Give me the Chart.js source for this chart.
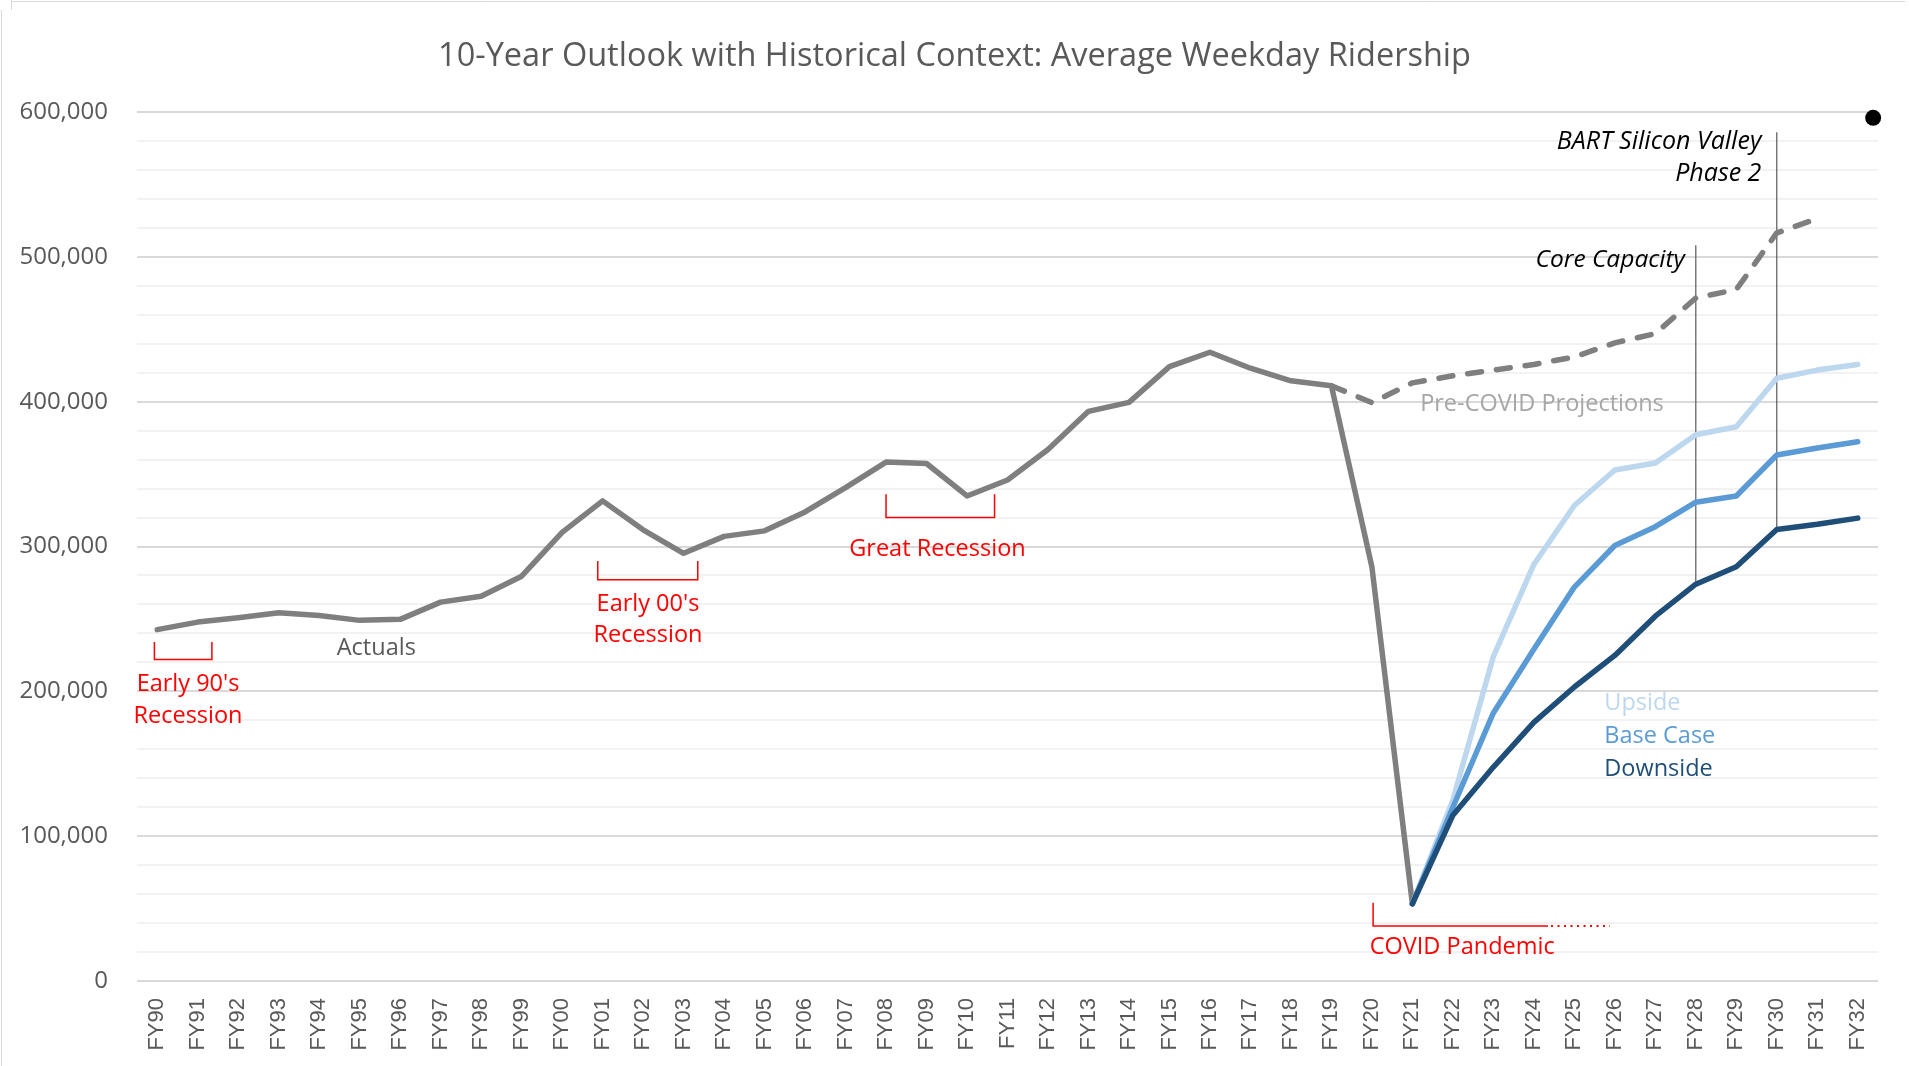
<!DOCTYPE html>
<html>
<head>
<meta charset="utf-8">
<script src="https://cdn.jsdelivr.net/npm/chart.js@4.4.1/dist/chart.umd.min.js"></script>
<style>
  html, body { margin: 0; padding: 0; background: #fff; }
  #wrap { width: 1909px; height: 1066px; position: relative; }
</style>
</head>
<body>
<div id="wrap"><canvas id="ridership"></canvas></div>
<script>
// fiscal years on the category axis
const years = ['FY90','FY91','FY92','FY93','FY94','FY95','FY96','FY97','FY98','FY99',
  'FY00','FY01','FY02','FY03','FY04','FY05','FY06','FY07','FY08','FY09',
  'FY10','FY11','FY12','FY13','FY14','FY15','FY16','FY17','FY18','FY19',
  'FY20','FY21','FY22','FY23','FY24','FY25','FY26','FY27','FY28','FY29',
  'FY30','FY31','FY32'];

// average weekday ridership
const actuals = [242600, 247800, 250800, 254300, 252400, 249000, 249700, 261600, 265700, 279500,
  309700, 331500, 311500, 295300, 307000, 310800, 323900, 340600, 358300, 357300,
  334900, 345900, 367000, 393300, 399500, 424200, 434100, 423100, 414400, 411000,
  286000, 53300, null, null, null, null, null, null, null, null, null, null, null];

const preCovid = [null, null, null, null, null, null, null, null, null, null,
  null, null, null, null, null, null, null, null, null, null,
  null, null, null, null, null, null, null, null, null, 411000,
  399300, 413000, 417900, 421800, 425700, 430900, 440600, 447000, 471600, 477400,
  516500, 526500, null];

const none31 = Array(31).fill(null);
const upside   = [...none31, 53300, 125000, 224000, 287600, 328300, 352800, 357600, 377200, 382700, 416200, 421800, 425700];
const baseCase = [...none31, 53300, 120000, 185100, 229000, 272000, 300700, 313700, 330600, 334900, 363200, 368000, 372300];
const downside = [...none31, 53300, 114500, 147700, 178600, 203000, 224800, 251900, 274000, 286000, 311700, 315300, 319600];

// project marker lines: [top, bottom]
const coreCapacity = [508000, 274000];
const bartPhase2 = [586000, 311700];
const topDot = { x: 42.38, y: 596000 };

const yTicks = [0, 100000, 200000, 300000, 400000, 500000, 600000];

// annotation placement (category index, value)
const brackets = [
  { from: -0.07, to: 1.35, top: 234000, bottom: 222000 },
  { from: 10.88, to: 13.35, top: 290000, bottom: 277000 },
  { from: 18.0, to: 20.68, top: 336000, bottom: 320000 },
  { from: 30.03, to: 34.35, dots: 35.88, top: 54000, bottom: 38000, open: true }
];
const notes = [
  { text: "Early 90's", i: 0.76, v: 204800, color: '#FF0000' },
  { text: 'Recession', i: 0.76, v: 182800, color: '#FF0000' },
  { text: 'Actuals', i: 5.41, v: 229900, color: '#595959' },
  { text: "Early 00's", i: 12.12, v: 260400, color: '#FF0000' },
  { text: 'Recession', i: 12.12, v: 238600, color: '#FF0000' },
  { text: 'Great Recession', i: 19.27, v: 298200, color: '#FF0000' },
  { text: 'COVID Pandemic', i: 32.23, v: 23000, color: '#FF0000' },
  { text: 'Pre-COVID Projections', i: 34.2, v: 398300, color: '#A6A6A6' },
  { text: 'Upside', i: 35.74, v: 191700, color: '#BDD7EE', align: 'left' },
  { text: 'Base Case', i: 35.74, v: 169000, color: '#5B9BD5', align: 'left' },
  { text: 'Downside', i: 35.74, v: 146200, color: '#1F4E79', align: 'left' },
  { text: 'Core Capacity', i: 37.73, v: 497700, color: '#000', align: 'right', italic: true, size: 24.5 },
  { text: 'BART Silicon Valley', i: 39.62, v: 579300, color: '#000', align: 'right', italic: true, size: 25 },
  { text: 'Phase 2', i: 39.62, v: 557400, color: '#000', align: 'right', italic: true, size: 25 }
];

const FONT = '"Open Sans", "Noto Sans", sans-serif';

const overlay = {
  id: 'overlay',
  beforeDraw(chart) {
    const c = chart.ctx;
    c.save();
    c.strokeStyle = '#D9D9D9';
    c.lineWidth = 1;
    c.beginPath();
    c.moveTo(1.5, 10); c.lineTo(1.5, chart.height);
    c.moveTo(11.5, 0); c.lineTo(11.5, 10);
    c.moveTo(11, 1.5); c.lineTo(1905, 1.5);
    c.stroke();
    // title
    c.fillStyle = '#595959';
    c.font = '32.5px ' + FONT;
    c.textAlign = 'center';
    c.textBaseline = 'middle';
    c.fillText('10-Year Outlook with Historical Context: Average Weekday Ridership', chart.width / 2, 57);
    c.restore();
  },
  afterDatasetsDraw(chart) {
    const c = chart.ctx;
    const xs = chart.scales.x, ys = chart.scales.y;
    c.save();
    c.strokeStyle = '#FF0000';
    c.lineWidth = 1.5;
    brackets.forEach(b => {
      const x1 = xs.getPixelForValue(b.from), x2 = xs.getPixelForValue(b.to);
      const yt = ys.getPixelForValue(b.top), yb = ys.getPixelForValue(b.bottom);
      c.setLineDash([]);
      c.beginPath();
      c.moveTo(x1, yt); c.lineTo(x1, yb); c.lineTo(x2, yb);
      if (!b.open) c.lineTo(x2, yt);
      c.stroke();
      if (b.dots) {
        c.setLineDash([2, 4.5]);
        c.lineWidth = 2;
        c.beginPath();
        c.moveTo(x2 + 3, yb); c.lineTo(xs.getPixelForValue(b.dots), yb);
        c.stroke();
        c.lineWidth = 1.5;
      }
    });
    c.setLineDash([]);
    c.textBaseline = 'middle';
    notes.forEach(n => {
      c.font = (n.italic ? 'italic ' : '') + (n.size || 23.5) + 'px ' + FONT;
      c.fillStyle = n.color;
      c.textAlign = n.align || 'center';
      c.fillText(n.text, xs.getPixelForValue(n.i), ys.getPixelForValue(n.v));
    });
    c.restore();
  }
};

const lineStyle = { pointRadius: 0, borderWidth: 5.5, borderJoinStyle: 'round', borderCapStyle: 'round', tension: 0, fill: false };

new Chart(document.getElementById('ridership'), {
  type: 'line',
  data: {
    labels: years,
    datasets: [
      { label: 'Downside', data: downside, borderColor: '#1F4E79', order: 1, ...lineStyle },
      { label: 'Base Case', data: baseCase, borderColor: '#5B9BD5', order: 2, ...lineStyle },
      { label: 'Upside', data: upside, borderColor: '#BDD7EE', order: 3, ...lineStyle },
      { label: 'Actuals', data: actuals, borderColor: '#7F7F7F', order: 4, ...lineStyle },
      { label: 'Pre-COVID Projections', data: preCovid, borderColor: '#7F7F7F', order: 5, ...lineStyle,
        borderDash: [14, 15] },
      { label: 'Core Capacity', data: coreCapacity.map(v => ({ x: 'FY28', y: v })),
        borderColor: '#595959', borderWidth: 1.2, pointRadius: 0, order: 6 },
      { label: 'BART Silicon Valley Phase 2', data: bartPhase2.map(v => ({ x: 'FY30', y: v })),
        borderColor: '#595959', borderWidth: 1.2, pointRadius: 0, order: 6 },
      { type: 'scatter', label: 'marker', data: [topDot], xAxisID: 'xDot', clip: false,
        pointRadius: 8, pointBackgroundColor: '#000', pointBorderWidth: 0, order: 0 }
    ]
  },
  options: {
    responsive: true,
    maintainAspectRatio: false,
    animation: false,
    layout: { padding: { top: 112, right: 31, bottom: 0, left: 0 } },
    plugins: { legend: { display: false }, tooltip: { enabled: false }, title: { display: false } },
    scales: {
      x: {
        type: 'category',
        offset: true,
        grid: { display: false, drawTicks: false },
        border: { display: false },
        ticks: {
          autoSkip: false, minRotation: 90, maxRotation: 90, padding: 17,
          color: '#595959', font: { family: '"Liberation Sans", Arial, sans-serif', size: 22 }
        },
        afterFit(scale) { scale.height = 85; }
      },
      xDot: { type: 'linear', display: false, min: -0.5, max: 42.5 },
      y: {
        min: 0, max: 600000,
        grid: {
          drawTicks: false, lineWidth: 2,
          color: ctx => (yTicks.includes(ctx.tick.value) ? '#D9D9D9' : '#F2F2F2')
        },
        border: { display: false },
        ticks: {
          stepSize: 20000, autoSkip: false, padding: 29, color: '#595959',
          font: { family: FONT, size: 24 },
          callback: v => (yTicks.includes(v) ? v.toLocaleString('en-US') : '')
        },
        afterFit(scale) { scale.width = 137; }
      }
    }
  },
  plugins: [overlay]
});
</script>
</body>
</html>
